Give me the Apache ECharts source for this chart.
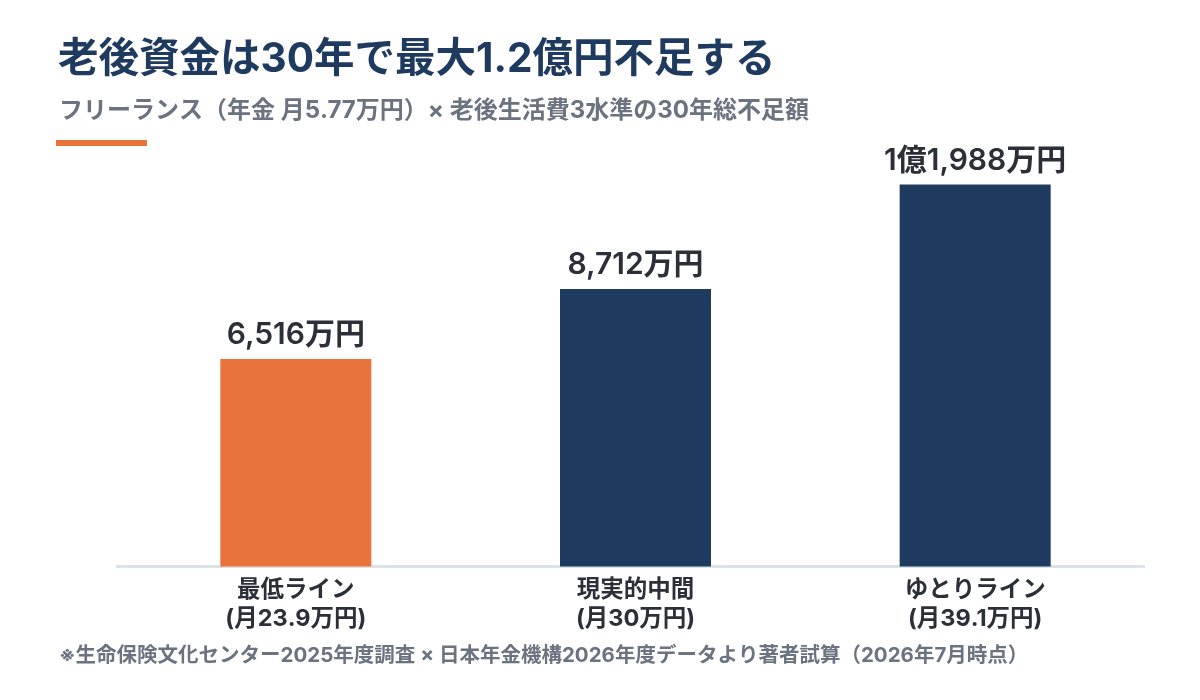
<!DOCTYPE html>
<html>
<head>
<meta charset="utf-8">
<script src="https://cdn.jsdelivr.net/npm/echarts@6/dist/echarts.min.js"></script>
<style>html,body{margin:0;padding:0;background:#fff}#c{width:1200px;height:700px}</style>
</head>
<body>
<div id="c"></div>
<script>
const categories = ['最低ライン\n(月23.9万円)', '現実的中間\n(月30万円)', 'ゆとりライン\n(月39.1万円)'];
const shortfall = [6516, 8712, 11988]; // 万円
const barColors = ['#e8743b', '#1f3a5f', '#1f3a5f'];
const titleText = '老後資金は30年で最大1.2億円不足する';
const subtitleText = 'フリーランス（年金 月5.77万円）× 老後生活費3水準の30年総不足額';
const footerText = '※生命保険文化センター2025年度調査 × 日本年金機構2026年度データより著者試算（2026年7月時点）';

const FONT = 'Inter, "Noto Sans CJK JP", sans-serif';
function fmt(v) {
  if (v >= 10000) {
    const oku = Math.floor(v / 10000);
    const man = v % 10000;
    return oku + '億' + man.toLocaleString('en-US') + '万円';
  }
  return v.toLocaleString('en-US') + '万円';
}

const chart = echarts.init(document.getElementById('c'), null, {renderer: 'canvas'});
chart.setOption({
  backgroundColor: '#ffffff',
  animation: false,
  title: [
    {text: titleText, left: 53, top: 35,
     textStyle: {fontFamily: FONT, fontSize: 40.5, fontWeight: 'bold', color: '#1f3a5f'}},
    {text: subtitleText, left: 54, top: 94,
     textStyle: {fontFamily: FONT, fontSize: 24, fontWeight: 'bold', color: '#6b7280'}},
    {text: footerText, left: 54, top: 641,
     textStyle: {fontFamily: FONT, fontSize: 20.5, fontWeight: 'bold', color: '#6b7280'}}
  ],
  graphic: [
    {type: 'rect', left: 56, top: 140, shape: {width: 91, height: 6}, style: {fill: '#e8743b'}},
    {type: 'rect', left: 116, top: 565, z: 0, shape: {width: 1029, height: 3}, style: {fill: '#dde1e8'}}
  ],
  grid: {left: 126, right: 55, top: 120.5, bottom: 133.5},
  xAxis: {
    type: 'category',
    data: categories,
    axisLine: {show: false},
    axisTick: {show: false},
    axisLabel: {fontFamily: FONT, fontSize: 23.5, fontWeight: 'bold', color: '#2b2f38', lineHeight: 29, margin: 9}
  },
  yAxis: {
    type: 'value', min: 0, max: 14000,
    show: false, splitLine: {show: false}
  },
  series: [{
    type: 'bar',
    data: shortfall.map((v, i) => ({value: v, itemStyle: {color: barColors[i]}})),
    barWidth: 151,
    z: 3,
    label: {
      show: true, position: 'top', distance: 9,
      formatter: p => fmt(p.value),
      fontFamily: FONT, fontSize: 30, fontWeight: 600, color: '#2b2f38'
    }
  }]
});
</script>
</body>
</html>
